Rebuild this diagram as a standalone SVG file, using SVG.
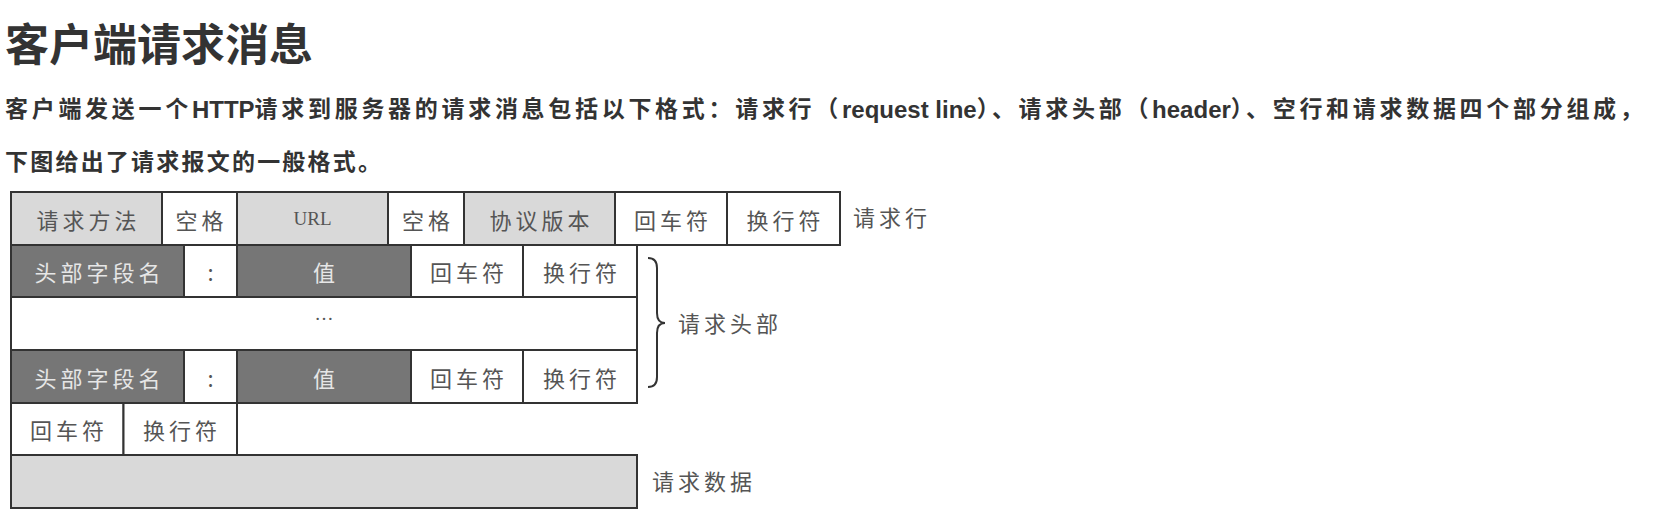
<svg xmlns="http://www.w3.org/2000/svg" width="1658" height="518" viewBox="0 0 1658 518">
  <style>
    .title { font-family: "Noto Sans CJK SC", sans-serif; font-weight: bold; font-size: 44px; fill: #333333; }
    .para { font-family: "Liberation Sans", "Noto Sans CJK SC", sans-serif; font-weight: bold; font-size: 23px; fill: #333333; }
    .cj { letter-spacing: 3.7px; }
    .la { font-size: 24px; letter-spacing: 0px; }
    .cell { stroke: #333333; stroke-width: 2; }
    .lt { fill: #d9d9d9; }
    .wh { fill: #ffffff; }
    .dk { fill: #767676; }
    .t { font-family: "Noto Sans CJK SC", sans-serif; font-size: 22px; letter-spacing: 4px; fill: #555555; text-anchor: middle; dominant-baseline: central; }
    .tl { font-family: "Noto Sans CJK SC", sans-serif; font-size: 22px; letter-spacing: 4px; fill: #e6e6e6; text-anchor: middle; dominant-baseline: central; }
    .ser { font-family: "Liberation Serif", serif; font-size: 19px; fill: #555555; text-anchor: middle; dominant-baseline: central; }
    .lab { font-family: "Noto Sans CJK SC", sans-serif; font-size: 22px; letter-spacing: 4px; fill: #555555; dominant-baseline: central; }
    .brace { fill: none; stroke: #333333; stroke-width: 2; }
  </style>
  <rect x="0" y="0" width="1658" height="518" fill="#ffffff"/>

  <g id="heading">
    <text class="title" x="5" y="42" dominant-baseline="central">客户端请求消息</text>
    <text class="para" x="5" y="109" dominant-baseline="central"><tspan class="cj">客户端发送一个</tspan><tspan class="la">HTTP</tspan><tspan class="cj">请求到服务器的请求消息包括以下格式：请求行（</tspan><tspan class="la">request line</tspan><tspan class="cj">）、请求头部（</tspan><tspan class="la">header</tspan><tspan class="cj">）、空行和请求数据四个部分组成，</tspan></text>
    <text class="para" x="5" y="162" dominant-baseline="central" textLength="376" lengthAdjust="spacing">下图给出了请求报文的一般格式。</text>
  </g>

  <!-- Row 1: request line -->
  <g id="method"><rect class="cell lt" x="11" y="192" width="151" height="53"/><text class="t" x="88.5" y="218.5">请求方法</text></g>
  <g id="space1"><rect class="cell wh" x="162" y="192" width="75" height="53"/><text class="t" x="201.5" y="218.5">空格</text></g>
  <g id="url"><rect class="cell lt" x="237" y="192" width="151" height="53"/><text class="ser" x="312.5" y="218.5">URL</text></g>
  <g id="space2"><rect class="cell wh" x="388" y="192" width="76" height="53"/><text class="t" x="428" y="218.5">空格</text></g>
  <g id="version"><rect class="cell lt" x="464" y="192" width="151" height="53"/><text class="t" x="541.5" y="218.5">协议版本</text></g>
  <g id="cr1"><rect class="cell wh" x="615" y="192" width="112" height="53"/><text class="t" x="673" y="218.5">回车符</text></g>
  <g id="lf1"><rect class="cell wh" x="727" y="192" width="113" height="53"/><text class="t" x="785.5" y="218.5">换行符</text></g>
  <g id="label-request-line"><text class="lab" x="853" y="216">请求行</text></g>

  <!-- Row 2: header field -->
  <g id="hname1"><rect class="cell dk" x="11" y="245" width="173" height="52"/><text class="tl" x="99.5" y="271">头部字段名</text></g>
  <g id="colon1"><rect class="cell wh" x="184" y="245" width="53" height="52"/><text class="t" x="212.5" y="271">:</text></g>
  <g id="hval1"><rect class="cell dk" x="237" y="245" width="174" height="52"/><text class="tl" x="326" y="271">值</text></g>
  <g id="cr2"><rect class="cell wh" x="411" y="245" width="112" height="52"/><text class="t" x="469" y="271">回车符</text></g>
  <g id="lf2"><rect class="cell wh" x="523" y="245" width="114" height="52"/><text class="t" x="582" y="271">换行符</text></g>

  <!-- Row 3: ellipsis -->
  <g id="more"><rect class="cell wh" x="11" y="297" width="626" height="53"/><text class="ser" x="324" y="313" font-size="30" fill="#333333">…</text></g>

  <!-- Row 4: header field -->
  <g id="hname2"><rect class="cell dk" x="11" y="350" width="173" height="53"/><text class="tl" x="99.5" y="376.5">头部字段名</text></g>
  <g id="colon2"><rect class="cell wh" x="184" y="350" width="53" height="53"/><text class="t" x="212.5" y="376.5">:</text></g>
  <g id="hval2"><rect class="cell dk" x="237" y="350" width="174" height="53"/><text class="tl" x="326" y="376.5">值</text></g>
  <g id="cr3"><rect class="cell wh" x="411" y="350" width="112" height="53"/><text class="t" x="469" y="376.5">回车符</text></g>
  <g id="lf3"><rect class="cell wh" x="523" y="350" width="114" height="53"/><text class="t" x="582" y="376.5">换行符</text></g>

  <g id="label-headers"><text class="lab" x="678" y="322">请求头部</text></g>

  <!-- Row 5: blank line -->
  <g id="cr4"><rect class="cell wh" x="11" y="403" width="112.5" height="52"/><text class="t" x="69" y="429">回车符</text></g>
  <g id="lf4"><rect class="cell wh" x="123.5" y="403" width="113.5" height="52"/><text class="t" x="182" y="429">换行符</text></g>

  <!-- Row 6: body -->
  <g id="body"><rect class="cell lt" x="11" y="455" width="626" height="53"/></g>
  <g id="label-body"><text class="lab" x="652" y="480">请求数据</text></g>

  <g id="connectors">
    <path class="brace" d="M648,258 Q657,258 657,268 L657,313 Q657,323 665,323 Q657,323 657,333 L657,377 Q657,387 648,387"/>
  </g>
</svg>
